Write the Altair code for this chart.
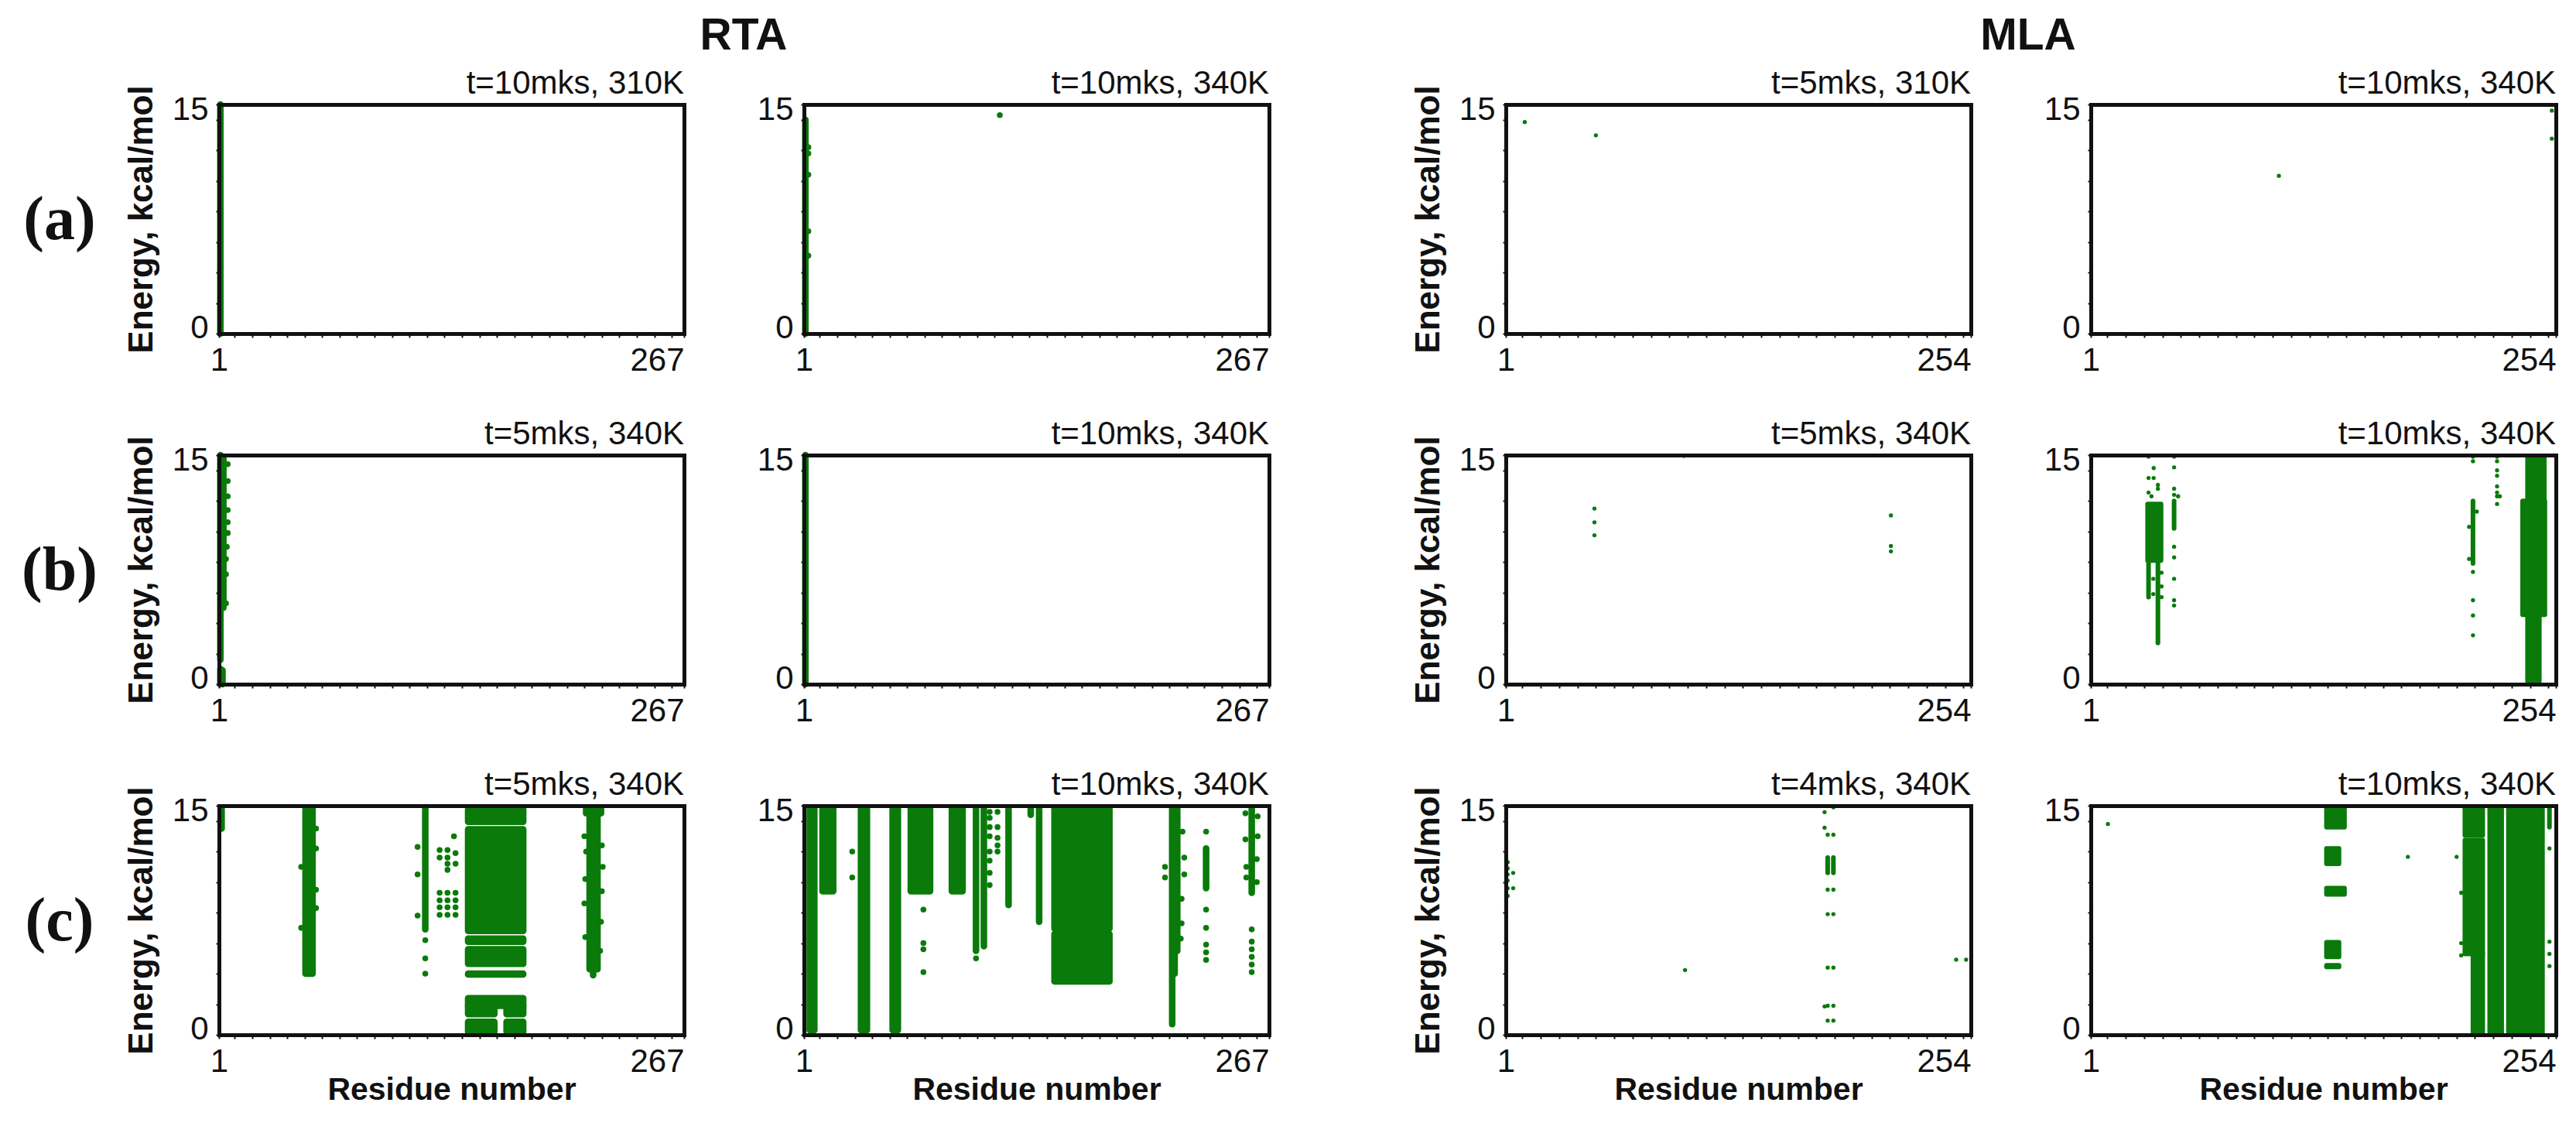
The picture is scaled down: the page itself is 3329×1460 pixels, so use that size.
import altair as alt
import pandas as pd

# ------------------------------------------------------------------
# Residue interaction-energy maps.  Every panel is described by
#   *_COLS   : dense runs of points on one residue   (residue, e_low, e_high)
#   *_BLOCKS : dense clusters over several residues  (res_from, res_to, e_low, e_high)
#   *_DOTS   : isolated points                       (residue, energy)
# ------------------------------------------------------------------

GROUP_NAMES = ["RTA", "MLA"]
ROW_LABELS = ["(a)", "(b)", "(c)"]
RESIDUE_COUNT = {"RTA": 267, "MLA": 254}
ENERGY_RANGE = [0, 15]
PANEL_TITLES = [
    ["t=10mks, 310K", "t=10mks, 340K", "t=5mks, 310K", "t=10mks, 340K"],
    ["t=5mks, 340K", "t=10mks, 340K", "t=5mks, 340K", "t=10mks, 340K"],
    ["t=5mks, 340K", "t=10mks, 340K", "t=4mks, 340K", "t=10mks, 340K"],
]
X_TITLE = "Residue number"
Y_TITLE = "Energy, kcal/mol"

# ---------------- RTA, row (a) ----------------
RTA_A1_COLS = [(1.8, 0.0, 15.0)]
RTA_A1_BLOCKS = []
RTA_A1_DOTS = []

RTA_A2_COLS = [(1.8, 0.0, 14.0)]
RTA_A2_BLOCKS = []
RTA_A2_DOTS = [(3.5, 12.2), (3.5, 11.8), (3.5, 10.4), (3.5, 6.7), (3.5, 5.1), (113.0, 14.3)]

# ---------------- RTA, row (b) ----------------
RTA_B1_COLS = [(1.8, 1.6, 15.0), (3.5, 5.0, 14.9), (1.8, 0.0, 1.0), (3.0, 0.0, 0.9)]
RTA_B1_BLOCKS = []
RTA_B1_DOTS = [(6.0, 14.4), (6.0, 13.3), (6.0, 12.3), (6.0, 11.4), (6.0, 10.6), (6.0, 9.9),
               (5.5, 9.0), (5.0, 8.2), (5.0, 7.2), (5.0, 5.3)]

RTA_B2_COLS = [(1.8, 0.0, 15.0)]
RTA_B2_BLOCKS = []
RTA_B2_DOTS = []

# ---------------- RTA, row (c) ----------------
RTA_C1_COLS = [(2.5, 13.5, 14.8), (119.0, 6.9, 14.9), (215.0, 3.9, 14.8)]
RTA_C1_BLOCKS = [
    (50.5, 54.5, 4.0, 14.8),
    (143.5, 175.0, 13.95, 14.75),
    (143.5, 175.0, 6.8, 13.45),
    (143.5, 175.0, 6.1, 6.3),
    (143.5, 175.0, 4.65, 5.6),
    (143.5, 175.0, 3.95, 4.0),
    (143.5, 175.0, 1.9, 2.4),
    (143.5, 158.5, 1.35, 1.9),
    (165.5, 175.0, 1.35, 1.9),
    (143.5, 158.5, 0.2, 0.85),
    (165.5, 175.0, 0.2, 0.85),
    (213.0, 217.5, 4.3, 14.5),
    (211.0, 219.5, 14.5, 14.8),
]
RTA_C1_DOTS = [
    (48.0, 11.0), (48.0, 7.0), (56.5, 13.5), (56.5, 12.2), (56.5, 9.5), (56.5, 8.3),
    (119.0, 6.2), (119.0, 5.0), (119.0, 4.0),
    (114.6, 12.3), (114.6, 10.5), (114.6, 7.8),
    (135.4, 13.0), (127.2, 12.1), (131.7, 12.1), (131.7, 11.6), (131.7, 11.2), (131.7, 10.8),
    (127.2, 11.6), (136.3, 11.9), (136.3, 11.2),
    (127.2, 9.3), (131.7, 9.3), (136.3, 9.3), (127.2, 8.8), (131.7, 8.8), (136.3, 8.8),
    (127.2, 8.35), (131.7, 8.35), (136.3, 8.35), (127.2, 7.85), (131.7, 7.85), (136.3, 7.85),
    (210.0, 13.0), (220.0, 12.4), (220.5, 11.0), (210.5, 10.2), (220.0, 9.4), (210.0, 8.6),
    (219.5, 7.4), (210.5, 6.4), (219.0, 5.5), (211.0, 12.0),
]

RTA_C2_COLS = [
    (99.4, 5.5, 14.8), (103.9, 5.8, 14.8), (118.0, 8.5, 14.8), (130.7, 14.4, 14.8),
    (135.5, 7.4, 14.8), (211.6, 0.7, 14.8), (214.5, 5.5, 14.8), (213.0, 4.0, 14.8),
    (231.0, 9.6, 12.2), (257.1, 9.3, 14.8),
]
RTA_C2_BLOCKS = [
    (4.3, 6.9, 0.3, 14.8),
    (11.6, 17.7, 9.4, 14.8),
    (33.6, 37.0, 0.3, 14.8),
    (51.7, 54.7, 0.3, 14.8),
    (62.1, 73.1, 9.4, 14.8),
    (85.6, 91.7, 9.4, 14.8),
    (144.3, 175.7, 6.95, 14.8),
    (144.3, 175.7, 3.5, 6.6),
]
RTA_C2_DOTS = [
    (28.6, 12.0), (28.6, 10.3),
    (69.3, 8.2), (69.3, 6.0), (69.3, 5.6), (69.3, 4.1),
    (99.4, 5.0),
    (107.2, 14.6), (107.2, 14.2), (107.2, 13.6), (107.2, 13.0), (107.2, 12.0), (107.2, 11.4),
    (107.2, 10.6), (107.2, 9.8),
    (111.7, 14.6), (111.7, 13.6), (111.7, 12.9), (111.7, 12.4), (111.7, 12.0),
    (207.5, 11.0), (207.5, 10.3), (218.5, 10.5), (218.5, 11.6), (217.5, 13.3), (217.0, 8.9),
    (217.0, 7.3), (216.5, 6.3),
    (231.0, 13.3), (231.0, 8.2), (231.0, 7.0), (231.0, 5.9), (231.0, 5.4), (231.0, 4.9),
    (253.5, 14.5), (260.5, 14.3), (253.5, 12.8), (260.5, 13.0), (254.0, 11.0), (260.0, 11.5),
    (254.0, 10.3), (260.0, 10.0),
    (257.1, 6.9), (257.1, 6.1), (257.1, 5.6), (257.1, 5.1), (257.1, 4.6), (257.1, 4.1),
]

# ---------------- MLA, row (a) ----------------
MLA_A1_COLS = []
MLA_A1_BLOCKS = []
MLA_A1_DOTS = [(11.3, 13.85), (50.0, 12.98)]

MLA_A2_COLS = []
MLA_A2_BLOCKS = []
MLA_A2_DOTS = [(103.3, 10.33), (251.8, 14.6), (251.8, 12.76)]

# ---------------- MLA, row (b) ----------------
MLA_B1_COLS = []
MLA_B1_BLOCKS = []
MLA_B1_DOTS = [(49.2, 11.5), (49.2, 10.6), (49.2, 9.75), (210.5, 11.05), (210.5, 9.05),
               (210.5, 8.7), (97.8, 14.95)]

MLA_B2_COLS = [(32.4, 5.7, 8.0), (37.5, 2.7, 8.0), (46.3, 10.2, 12.0), (208.9, 7.9, 12.0)]
MLA_B2_BLOCKS = [
    (31.9, 39.2, 8.1, 11.8),
    (238.6, 247.7, 12.0, 14.85),
    (235.9, 248.0, 4.55, 12.0),
    (238.6, 245.0, 0.2, 4.55),
]
MLA_B2_DOTS = [
    (32.4, 14.9), (32.4, 13.5), (32.4, 12.55), (35.2, 14.15), (35.2, 13.5), (37.5, 13.05),
    (37.5, 12.8), (34.0, 12.3), (39.5, 7.3), (39.5, 6.4), (39.5, 5.7), (35.0, 6.9), (35.0, 5.9),
    (46.3, 14.9), (46.3, 14.2), (46.3, 12.8), (46.3, 12.4), (48.5, 12.3), (46.3, 9.0),
    (46.3, 8.3), (46.3, 6.9), (46.3, 5.5), (46.3, 5.15),
    (208.9, 14.9), (208.9, 14.6), (206.8, 10.3), (211.0, 11.3), (206.8, 8.2), (208.9, 7.35),
    (208.9, 5.5), (208.9, 4.5), (208.9, 3.2),
    (222.0, 14.9), (222.0, 14.6), (222.0, 14.0), (222.0, 13.65), (222.0, 12.95), (222.0, 12.55),
    (222.0, 12.3), (222.0, 11.8), (223.5, 12.3),
]

# ---------------- MLA, row (c) ----------------
MLA_C1_COLS = [(176.1, 10.6, 11.6), (179.2, 10.6, 11.6)]
MLA_C1_BLOCKS = []
MLA_C1_DOTS = [
    (2.0, 11.3), (2.0, 10.9), (2.0, 10.5), (2.0, 10.1), (2.0, 9.6), (2.0, 9.1), (5.0, 10.6), (5.0, 9.6),
    (98.5, 4.24),
    (174.4, 14.58), (174.4, 13.56), (174.4, 1.86), (179.2, 14.9),
    (176.1, 13.1), (179.2, 13.1), (176.1, 9.5), (179.2, 9.5), (176.1, 7.9), (179.2, 7.9),
    (176.1, 4.4), (179.2, 4.4), (176.1, 1.9), (179.2, 1.9), (176.1, 0.93), (179.2, 0.93),
    (246.0, 4.92), (251.4, 4.92),
]

MLA_C2_COLS = [(250.5, 13.6, 14.8)]
MLA_C2_BLOCKS = [
    (129.2, 139.0, 13.6, 14.85), (129.2, 136.0, 11.2, 12.2), (129.2, 139.0, 9.2, 9.6),
    (129.2, 136.0, 5.1, 6.05), (129.2, 136.0, 4.45, 4.55),
    (204.5, 214.2, 13.05, 14.85), (204.5, 214.2, 5.3, 12.75), (208.9, 214.2, 0.15, 5.3),
    (218.0, 224.5, 0.15, 14.85), (228.2, 246.7, 0.15, 14.85),
]
MLA_C2_DOTS = [
    (10.3, 13.8), (173.5, 11.65), (200.0, 11.65), (202.5, 9.3), (202.5, 6.0), (202.5, 5.2),
    (250.5, 12.2), (250.5, 6.1), (250.5, 5.3), (250.5, 4.5),
]

PANELS = [
    [(RTA_A1_COLS, RTA_A1_BLOCKS, RTA_A1_DOTS), (RTA_A2_COLS, RTA_A2_BLOCKS, RTA_A2_DOTS),
     (MLA_A1_COLS, MLA_A1_BLOCKS, MLA_A1_DOTS), (MLA_A2_COLS, MLA_A2_BLOCKS, MLA_A2_DOTS)],
    [(RTA_B1_COLS, RTA_B1_BLOCKS, RTA_B1_DOTS), (RTA_B2_COLS, RTA_B2_BLOCKS, RTA_B2_DOTS),
     (MLA_B1_COLS, MLA_B1_BLOCKS, MLA_B1_DOTS), (MLA_B2_COLS, MLA_B2_BLOCKS, MLA_B2_DOTS)],
    [(RTA_C1_COLS, RTA_C1_BLOCKS, RTA_C1_DOTS), (RTA_C2_COLS, RTA_C2_BLOCKS, RTA_C2_DOTS),
     (MLA_C1_COLS, MLA_C1_BLOCKS, MLA_C1_DOTS), (MLA_C2_COLS, MLA_C2_BLOCKS, MLA_C2_DOTS)],
]

# ---------------- styling ----------------
FONT = "Liberation Sans"
SERIF = "Liberation Serif"
INK = "#111111"
GREEN = "#0a7a0a"
PLOT_W, PLOT_H = 601, 296
GROUP_GAP = 151                 # extra room that separates the RTA and MLA groups
VIEW_W = PLOT_W + GROUP_GAP
FRAME_W = 5
DOT_D = {"RTA": 8.5, "MLA": 6.0}
TEXT_SIZE = 42


def panel_frame(cols, blocks, dots):
    rows = []
    for r, lo, hi in cols:
        rows.append({"kind": "col", "r": r, "r2": r, "e": lo, "e2": hi})
    for r1, r2, lo, hi in blocks:
        rows.append({"kind": "block", "r": r1, "r2": r2, "e": lo, "e2": hi})
    for r, e in dots:
        rows.append({"kind": "dot", "r": r, "r2": r, "e": e, "e2": e})
    return pd.DataFrame(rows, columns=["kind", "r", "r2", "e", "e2"])


def text_layer(label, x, y, font, size, weight="bold", align="center", baseline="middle"):
    return alt.Chart(pd.DataFrame({"label": [label]})).mark_text(
        font=font, fontSize=size, fontWeight=weight, color=INK, align=align, baseline=baseline
    ).encode(text="label:N", x=alt.value(x), y=alt.value(y))


def make_panel(row, col):
    group = GROUP_NAMES[col // 2]
    first_in_group = col % 2 == 0
    n_res = RESIDUE_COUNT[group]
    cols, blocks, dots = PANELS[row][col]
    d = DOT_D[group]
    x0 = 0 if group == "RTA" else GROUP_GAP
    shift = -GROUP_GAP

    xs = alt.Scale(domain=[1, n_res], range=[x0, x0 + PLOT_W], nice=False, zero=False)
    ys = alt.Scale(domain=ENERGY_RANGE, nice=False, zero=False)

    x_ticks = [1] + list(range(10, n_res, 10)) + [n_res]
    y_ticks = list(range(0, 15, 2)) + [15]

    bottom_kw = dict(
        orient="bottom", values=x_ticks,
        labelExpr=f"datum.value == 1 || datum.value == {n_res} ? datum.label : ''",
        labelAlign={"condition": {"test": f"datum.value == {n_res}", "value": "right"}, "value": "center"},
        labelFlush=False, labelOverlap=False, labelFont=FONT, labelFontSize=TEXT_SIZE,
        labelColor=INK, labelPadding=9, tickSize=5, tickWidth=2, tickColor=INK,
        domainColor=INK, domainWidth=FRAME_W, domainCap="square", grid=False, zindex=1,
    )
    if row == 2:
        bottom_kw.update(title=X_TITLE, titleFont=FONT, titleFontSize=41, titleFontWeight="bold",
                         titleColor=INK, titlePadding=-4)
    else:
        bottom_kw.update(title=None)

    left_kw = dict(
        orient="left", values=y_ticks,
        labelExpr="datum.value == 0 || datum.value == 15 ? datum.label : ''",
        labelFlush=True, labelFlushOffset=14, labelOverlap=False, labelFont=FONT,
        labelFontSize=TEXT_SIZE, labelColor=INK, labelPadding=10, tickSize=4, tickWidth=2,
        tickColor=INK, domainColor=INK, domainWidth=FRAME_W, domainCap="square", grid=False, zindex=1,
    )
    if group == "MLA":
        left_kw.update(offset=shift)
    if first_in_group:
        left_kw.update(title=Y_TITLE, titleFont=FONT, titleFontSize=44, titleFontWeight="bold",
                       titleColor=INK, titlePadding=17)
    else:
        left_kw.update(title=None)

    top_axis = alt.Axis(orient="top", domainColor=INK, domainWidth=FRAME_W, domainCap="square",
                        ticks=False, labels=False, grid=False, title=None, zindex=1)
    right_kw = dict(orient="right", domainColor=INK, domainWidth=FRAME_W, domainCap="square",
                    ticks=False, labels=False, grid=False, title=None, zindex=1)
    if group == "RTA":
        right_kw.update(offset=shift)

    base = alt.Chart(panel_frame(cols, blocks, dots))

    block_layer = base.transform_filter("datum.kind == 'block'").mark_rect(
        color=GREEN, stroke=GREEN, strokeWidth=d, strokeJoin="round"
    ).encode(
        x=alt.X("r:Q", scale=xs, axis=None), x2="r2:Q",
        y=alt.Y("e:Q", scale=ys, axis=None), y2="e2:Q",
    )
    col_layer = base.transform_filter("datum.kind == 'col'").mark_rule(
        color=GREEN, strokeWidth=d, strokeCap="round"
    ).encode(
        x=alt.X("r:Q", scale=xs, axis=top_axis),
        y=alt.Y("e:Q", scale=ys, axis=alt.Axis(**right_kw)), y2="e2:Q",
    )
    dot_layer = base.transform_filter("datum.kind == 'dot'").mark_circle(
        color=GREEN, opacity=1, size=3.1416 * d * d / 4
    ).encode(
        x=alt.X("r:Q", scale=xs, axis=alt.Axis(**bottom_kw)),
        y=alt.Y("e:Q", scale=ys, axis=alt.Axis(**left_kw)),
    )

    layers = [block_layer, col_layer, dot_layer]
    # panel caption, right-aligned just above the frame
    layers.append(text_layer(PANEL_TITLES[row][col], x0 + PLOT_W, -14, FONT, TEXT_SIZE,
                             weight="normal", align="right", baseline="alphabetic"))
    if col == 0:
        layers.append(text_layer(ROW_LABELS[row], -206, 150, SERIF, 80))
    if row == 0 and first_in_group:
        header_x = 678 if group == "RTA" else 826
        layers.append(text_layer(group, header_x, -88, FONT, 57))

    return alt.layer(*layers).resolve_axis(x="independent", y="independent").properties(
        width=VIEW_W, height=PLOT_H
    )


panels = [make_panel(r, c) for r in range(3) for c in range(4)]

chart = alt.concat(
    *panels, columns=4, spacing={"row": 157, "column": 4}, bounds="flush"
).properties(
    padding={"left": 28, "top": 18, "right": 10, "bottom": 10}, background="white"
).configure_view(strokeWidth=0).configure_axis(grid=False)

chart.save("out.html", embed_options={"renderer": "svg", "actions": False})
